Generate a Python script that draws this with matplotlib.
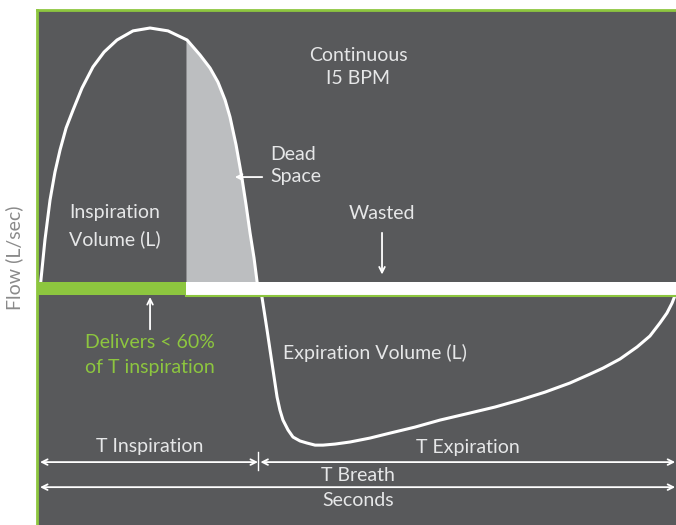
import numpy as np
import matplotlib
matplotlib.use("Agg")
import matplotlib.pyplot as plt

# Flow curve of one breath (15 BPM -> 4 s)
t_sec = [0.0, 0.031, 0.063, 0.094, 0.126, 0.164, 0.208, 0.264, 0.333, 0.403,
         0.484, 0.585, 0.692, 0.805, 0.925, 1.006, 1.069, 1.119, 1.164, 1.195,
         1.233, 1.270, 1.296, 1.321, 1.346, 1.371, 1.396, 1.428, 1.459, 1.491,
         1.509, 1.528, 1.560, 1.591, 1.635, 1.679, 1.730, 1.780, 1.855, 1.950,
         2.075, 2.201, 2.358, 2.516, 2.704, 2.862, 3.019, 3.176, 3.333, 3.459,
         3.541, 3.648, 3.755, 3.836, 3.899, 3.943, 3.975, 4.0]
flow = [0.0, 0.188, 0.341, 0.448, 0.533, 0.617, 0.686, 0.770, 0.851, 0.908,
        0.954, 0.989, 1.0, 0.989, 0.954, 0.897, 0.847, 0.793, 0.724, 0.659,
        0.552, 0.425, 0.322, 0.215, 0.119, 0.0, -0.031, -0.157, -0.284, -0.414,
        -0.464, -0.502, -0.540, -0.567, -0.582, -0.590, -0.598, -0.598, -0.594, -0.586,
        -0.571, -0.552, -0.529, -0.502, -0.475, -0.452, -0.425, -0.395, -0.360, -0.326,
        -0.303, -0.268, -0.222, -0.180, -0.130, -0.092, -0.054, -0.015]

t_breath = 4.0
t_insp = 1.371      # end of inspiration
t_deliver = 0.918   # end of delivered flow (< 60% of T inspiration)

bg = '#58595b'
green = '#8dc63f'
txt = '#e6e7e8'
grey_fill = '#bcbec0'

plt.rcParams['font.family'] = ['Lato', 'DejaVu Sans']

fig = plt.figure(figsize=(6.76, 5.25), dpi=100)
ax = fig.add_axes([37/676, 0, 639/676, 515/525])
ax.set_facecolor(bg)
ax.set_xlim(-0.019, t_breath)
ax.set_ylim(-0.904, 1.069)
ax.set_xticks([])
ax.set_yticks([])
for s in ['right', 'bottom']:
    ax.spines[s].set_visible(False)
for s in ['top', 'left']:
    ax.spines[s].set_color(green)
    ax.spines[s].set_linewidth(2)

# dead space area
tt = np.linspace(t_deliver, t_insp, 200)
ax.fill_between(tt, 0, np.interp(tt, t_sec, flow), color=grey_fill, lw=0, zorder=1)

ax.plot(t_sec, flow, color='white', lw=2.2, solid_joinstyle='round',
        solid_capstyle='round', zorder=2)

# delivered / wasted bar
ax.fill_between([-0.019, t_deliver], -0.023, 0.027, color=green, lw=0, zorder=3)
ax.fill_between([t_deliver, t_breath], -0.023, 0.027, color='white', lw=0, zorder=3)
ax.plot([t_deliver, t_breath], [-0.027, -0.027], color=green, lw=1.5, zorder=3)

fs = 14
ax.text(2.0, 0.851, 'Continuous\nI5 BPM', color=txt, fontsize=fs, ha='center',
        va='center', linespacing=1.45)
ax.text(1.447, 0.475, 'Dead\nSpace', color=txt, fontsize=fs, ha='left',
        va='center', linespacing=1.36)
ax.annotate('', xy=(1.208, 0.429), xytext=(1.415, 0.429),
            arrowprops=dict(arrowstyle='->', color='white', lw=1.3))
ax.text(0.472, 0.241, 'Inspiration\nVolume (L)', color=txt, fontsize=fs, ha='center',
        va='center', linespacing=1.65)
ax.text(2.151, 0.291, 'Wasted', color=txt, fontsize=fs, ha='center', va='center')
ax.annotate('', xy=(2.151, 0.045), xytext=(2.151, 0.226),
            arrowprops=dict(arrowstyle='->', color='white', lw=1.3))
ax.annotate('', xy=(0.692, -0.02), xytext=(0.692, -0.165),
            arrowprops=dict(arrowstyle='->', color='white', lw=1.3))
ax.text(0.692, -0.253, 'Delivers < 60%\nof T inspiration', color=green, fontsize=fs,
        ha='center', va='center', linespacing=1.54)
ax.text(1.528, -0.245, 'Expiration Volume (L)', color=txt, fontsize=fs, ha='left',
        va='center')

# time spans
ax.text(0.692, -0.605, 'T Inspiration', color=txt, fontsize=fs, ha='center',
        va='center')
ax.text(2.692, -0.609, 'T Expiration', color=txt, fontsize=fs, ha='center',
        va='center')
ax.annotate('', xy=(0.0, -0.663), xytext=(t_insp, -0.663),
            arrowprops=dict(arrowstyle='<->', color='white', lw=1.3,
                            shrinkA=0, shrinkB=0))
ax.plot([t_insp, t_insp], [-0.625, -0.693], color='white', lw=1)
ax.annotate('', xy=(t_insp + 0.015, -0.663), xytext=(t_breath - 0.005, -0.663),
            arrowprops=dict(arrowstyle='<->', color='white', lw=1.3,
                            shrinkA=0, shrinkB=0))
ax.text(2.0, -0.716, 'T Breath', color=txt, fontsize=fs, ha='center',
        va='center')
ax.annotate('', xy=(0.0, -0.759), xytext=(t_breath - 0.005, -0.759),
            arrowprops=dict(arrowstyle='<->', color='white', lw=1.3,
                            shrinkA=0, shrinkB=0))
ax.text(2.0, -0.812, 'Seconds', color=txt, fontsize=fs, ha='center',
        va='center')

fig.text(14/676, 1 - 258/525, 'Flow (L/sec)', color='#8a8a8a', fontsize=fs,
         rotation=90, ha='center', va='center')

fig.savefig('out.png', dpi=100, facecolor='white')
